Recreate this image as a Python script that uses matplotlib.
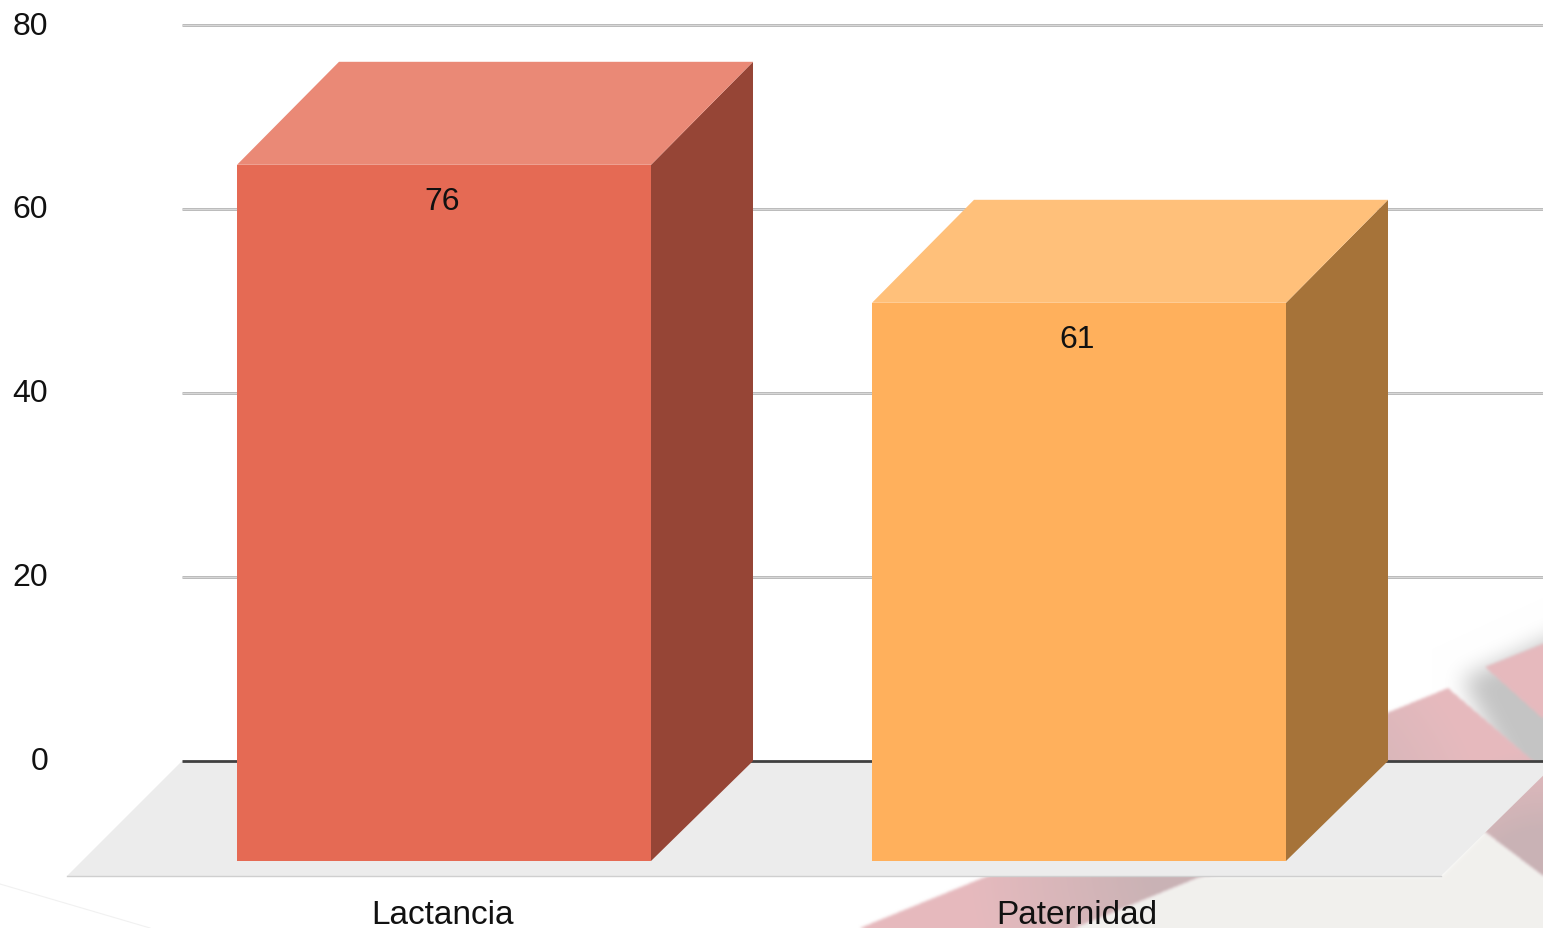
import numpy as np
import matplotlib
matplotlib.use("Agg")
import matplotlib.pyplot as plt
from matplotlib.patches import Polygon
from matplotlib.path import Path
from matplotlib.transforms import Affine2D

categories = ["Lactancia", "Paternidad"]
values = [76, 61]
y_ticks = [0, 20, 40, 60, 80]
front_colors = ["#e56a54", "#ffb05c"]
top_colors = ["#ea8976", "#ffc07a"]
side_colors = ["#964536", "#a67339"]

W, H = 1543, 929
PX_PER_UNIT = 9.2
PX_PER_CAT = 635.0
X0_PX, Y0_PX = 444.0, 762.0
TEXT = "#111111"
plt.rcParams["font.family"] = ["Liberation Sans", "DejaVu Sans"]


def blur(a, r):
    k = np.ones(2 * r + 1) / (2 * r + 1)
    for _ in range(3):
        a = np.apply_along_axis(lambda m: np.convolve(np.pad(m, r, mode="edge"), k, "valid"), 0, a)
        a = np.apply_along_axis(lambda m: np.convolve(np.pad(m, r, mode="edge"), k, "valid"), 1, a)
    return a


def mask(poly):
    yy, xx = np.mgrid[0:H, 0:W]
    pts = np.column_stack([xx.ravel() + .5, yy.ravel() + .5])
    return Path(poly).contains_points(pts).reshape(H, W).astype(float)


def background():
    img = np.ones((H, W, 3))
    pink = np.array([0.902, 0.729, 0.745])
    grey = np.array([0.79, 0.70, 0.71])
    cream = np.array([0.949, 0.945, 0.933])
    yy, xx = np.mgrid[0:H, 0:W]
    big = np.zeros((H, W + 120))
    sh_poly = [(1462, 680), (1700, 570), (1700, 900), (1540, 830)]
    yb, xb = np.mgrid[0:H, 0:W + 120]
    big = Path(sh_poly).contains_points(np.column_stack([xb.ravel() + .5, yb.ravel() + .5])).reshape(H, W + 120).astype(float)
    sh = blur(big, 10)[:, :W][..., None]
    img = img * (1 - sh * 0.23)
    img[yy > 800] = 1.0
    m_cream = blur(mask([(1075, 929), (1200, 878), (1441, 878), (1485, 833), (1543, 877), (1543, 929)]), 1)
    img = img * (1 - m_cream[..., None]) + cream * m_cream[..., None]
    m_pink = blur(mask([(860, 929), (1448, 689), (1560, 785), (1560, 890), (1485, 833), (1200, 878), (1075, 929)]), 1)
    d1 = np.clip((260 - np.hypot(xx - 1230, yy - 860)) / 180.0, 0, 1)
    d2 = np.clip((150 - np.hypot(xx - 1543, yy - 900)) / 80.0, 0, 1)
    d = np.maximum(d1, d2)[..., None]
    col = pink * (1 - d) + grey * d
    img = img * (1 - m_pink[..., None]) + col * m_pink[..., None]
    m_top = blur(mask([(1485, 668), (1560, 638), (1560, 735)]), 1)[..., None]
    img = img * (1 - m_top) + pink * m_top
    return img


fig = plt.figure(figsize=(W / 100, H / 100), dpi=100)
bg = fig.add_axes([0, 0, 1, 1], zorder=0)
bg.imshow(background(), extent=(0, W, H, 0), aspect="auto", interpolation="bilinear")
bg.plot([0, 150], [885, 929], color="#f1f1f1", lw=0.8)
bg.set_xlim(0, W)
bg.set_ylim(H, 0)
bg.axis("off")

ax = fig.add_axes([0, 0, 1, 1], zorder=1)
ax.patch.set_alpha(0)
ax.set_xlim(-X0_PX / PX_PER_CAT, (W - X0_PX) / PX_PER_CAT)
ax.set_ylim(-(H - Y0_PX) / PX_PER_UNIT, Y0_PX / PX_PER_UNIT)
for s in ax.spines.values():
    s.set_visible(False)

dx = 102 / PX_PER_CAT
dy_top = 103 / PX_PER_UNIT
dy_bot = 100 / PX_PER_UNIT
half = 207 / PX_PER_CAT
grid_x0 = (182 - X0_PX) / PX_PER_CAT
ax_right = (W - X0_PX) / PX_PER_CAT

# floor
ax.add_patch(Polygon([(grid_x0 - 115 / PX_PER_CAT, -115 / PX_PER_UNIT),
                      (grid_x0 + 1259 / PX_PER_CAT, -115 / PX_PER_UNIT),
                      (grid_x0 + 1376 / PX_PER_CAT, 0), (grid_x0, 0)],
                     facecolor="#ececec", edgecolor="none", zorder=1))
ax.plot([grid_x0 - 115 / PX_PER_CAT, grid_x0 + 1259 / PX_PER_CAT], [-115 / PX_PER_UNIT] * 2,
        color="#cfcfcf", lw=1, zorder=1.5)

# gridlines
ax.hlines([t for t in y_ticks if t != 0], grid_x0, ax_right, color="#b4b4b4", lw=2.0, zorder=1)
ax.hlines([t for t in y_ticks if t != 0], grid_x0, ax_right, color="#dedede", lw=0.6, zorder=1.1)
ax.hlines(0, grid_x0, ax_right, color="#404040", lw=2.0, zorder=2)

# bars
for i, v in enumerate(values):
    l, r = i - half, i + half
    fb, ft = -dy_bot, v - dy_top
    ax.add_patch(Polygon([(r, fb), (r + dx, 0), (r + dx, v), (r, ft)],
                         facecolor=side_colors[i], edgecolor="none", zorder=3))
    ax.add_patch(Polygon([(l, ft), (r, ft), (r + dx, v), (l + dx, v)],
                         facecolor=top_colors[i], edgecolor="none", zorder=3))
    ax.add_patch(Polygon([(l, fb), (r, fb), (r, ft), (l, ft)],
                         facecolor=front_colors[i], edgecolor="none", zorder=4))
    ax.annotate(str(v), xy=(i, ft), xytext=(-2 * 0.72, -36 * 0.72), textcoords="offset points",
                ha="center", va="center", fontsize=23, color=TEXT, zorder=5)

ax.set_yticks(y_ticks)
ax.set_yticklabels([str(t) for t in y_ticks])
ax.set_xticks(range(len(categories)))
ax.set_xticklabels(categories)
ax.tick_params(axis="both", length=0, labelcolor=TEXT)
ax.tick_params(axis="y", pad=-48 * 0.72, labelsize=23)
ax.tick_params(axis="x", pad=-13 * 0.72, labelsize=24)
for t in ax.get_xticklabels():
    t.set_va("center")
    t.set_ha("center")
    t.set_transform(t.get_transform() + Affine2D().translate(-2, 0))
for t in ax.get_yticklabels():
    t.set_ha("right")
    t.set_transform(t.get_transform() + Affine2D().translate(0, 3))

fig.savefig("out.png", dpi=100)
